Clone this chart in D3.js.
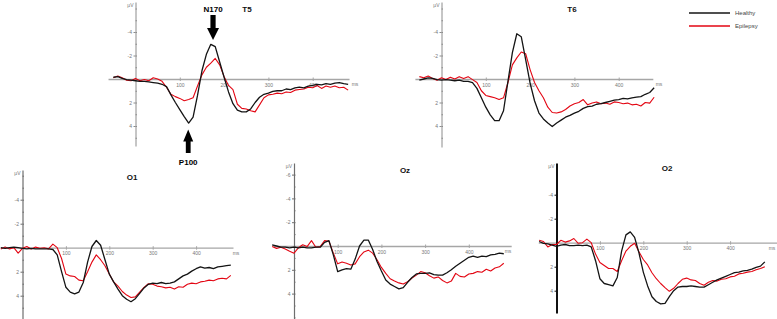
<!DOCTYPE html>
<html>
<head>
<meta charset="utf-8">
<script src="https://cdn.jsdelivr.net/npm/d3@7"></script>
<style>
  body { margin: 0; background: #fff; }
  svg { display: block; font-family: "Liberation Sans", Arial, sans-serif; }
</style>
</head>
<body>
<svg id="chart" width="777" height="319"></svg>
<script>
// time grid (ms) shared by every panel
const times = [-50,-40,-30,-20,-10,0,10,20,30,40,50,60,70,80,90,100,110,120,130,140,150,160,170,180,190,200,210,220,230,240,250,260,270,280,290,300,310,320,330,340,350,360,370,380,390,400,410,420,430,440,450,460,470,480];

// amplitudes in µV (positive is drawn downward)
const t5Healthy = [-0.15,-0.2,-0.05,0.05,0.1,0.15,0.2,0.2,0.25,0.3,0.35,0.45,0.65,1.35,2.0,2.6,3.2,3.75,3.25,1.4,-0.7,-2.1,-2.95,-2.75,-1.45,-0.15,1.1,2.1,2.65,2.8,2.8,2.55,2.0,1.55,1.3,1.2,1.05,1.0,1.0,0.85,0.9,0.75,0.7,0.75,0.6,0.55,0.45,0.5,0.4,0.45,0.35,0.3,0.4,0.45];
const t5Epilepsy = [-0.1,-0.25,-0.1,0.1,0.15,-0.05,0.15,0.05,0.15,-0.1,0.0,0.2,0.7,1.3,1.5,1.65,1.85,1.75,1.6,0.6,-0.35,-1.0,-1.35,-1.75,-1.2,-0.2,0.55,0.9,2.15,2.5,2.55,2.7,2.8,2.2,1.6,1.35,1.3,1.2,1.25,1.1,1.15,0.95,0.9,0.85,0.7,0.75,0.55,0.8,0.6,0.7,0.6,0.75,0.7,0.95];

const t6Healthy = [0.1,0.0,-0.1,-0.05,0.05,0.1,0.05,0.1,0.15,0.1,0.2,0.2,0.3,0.8,1.6,2.4,3.05,3.55,3.55,2.7,0.2,-2.25,-3.85,-3.6,-1.65,0.35,1.85,2.9,3.4,3.75,4.05,3.75,3.5,3.25,3.1,2.9,2.75,2.5,2.35,2.3,2.15,2.1,2.0,1.9,1.8,1.75,1.65,1.7,1.6,1.55,1.5,1.3,1.15,0.75];
const t6Epilepsy = [-0.2,-0.1,-0.25,-0.05,0.1,-0.1,0.05,-0.15,0.0,-0.2,-0.05,-0.2,0.05,0.3,1.0,1.4,1.5,1.6,1.75,1.6,0.3,-1.2,-1.8,-2.3,-2.15,-0.8,0.3,1.0,1.6,2.4,2.85,2.9,2.8,2.6,2.3,2.1,2.0,1.75,2.2,2.05,1.95,2.1,2.05,2.15,1.95,2.0,2.1,2.05,2.2,2.15,2.3,2.0,2.05,1.55];

const o1Healthy = [0.0,0.05,0.0,-0.05,0.0,0.05,0.1,0.05,0.1,0.1,0.1,0.1,0.15,0.6,2.0,3.3,3.7,3.85,3.7,2.9,1.2,-0.1,-0.6,-0.2,1.0,2.2,2.85,3.45,4.0,4.3,4.5,4.25,3.8,3.35,3.05,2.95,3.0,2.9,3.0,2.95,2.85,2.6,2.35,2.2,1.95,1.75,1.6,1.7,1.65,1.75,1.6,1.55,1.5,1.45];
const o1Epilepsy = [0.1,-0.05,0.1,0.0,0.45,0.05,-0.1,0.1,-0.05,0.05,0.0,0.1,-0.3,0.0,0.9,2.2,2.35,2.4,2.7,2.75,2.0,1.2,0.6,1.0,1.5,2.2,2.85,3.2,3.65,3.95,4.15,4.1,3.7,3.3,3.0,3.05,3.2,3.25,3.35,3.3,3.45,3.25,3.3,3.05,2.95,3.0,2.85,2.8,2.7,2.75,2.6,2.55,2.6,2.3];

const ozHealthy = [-0.1,0.0,0.1,0.1,0.15,0.1,0.15,0.1,0.15,0.15,0.1,0.1,-0.3,-0.45,0.75,2.15,2.0,1.9,1.95,1.1,0.0,-0.5,-0.5,0.3,1.3,2.1,2.85,3.2,3.4,3.6,3.5,3.05,2.65,2.35,2.3,2.3,2.25,2.4,2.45,2.45,2.25,2.0,1.7,1.45,1.2,0.95,0.85,0.95,0.85,0.9,0.75,0.7,0.6,0.65];
const ozEpilepsy = [0.05,0.2,0.1,0.25,0.45,0.6,0.15,-0.1,0.05,-0.45,0.1,0.05,-0.45,-0.4,0.6,1.5,1.35,1.45,1.6,1.5,0.9,0.5,0.35,0.6,1.15,1.8,2.3,2.75,2.95,3.1,3.2,3.0,2.7,2.45,2.15,2.25,2.5,2.7,2.6,2.9,3.1,2.95,2.3,2.55,2.6,2.35,2.3,2.15,2.2,1.95,2.1,1.85,1.75,1.45];

const o2Healthy = [null,-0.1,0.05,0.1,0.2,0.3,0.2,0.15,0.25,0.25,0.2,0.25,0.2,0.35,1.5,3.0,3.4,3.5,3.6,2.9,0.7,-0.65,-0.9,-0.45,0.85,2.45,3.6,4.5,4.9,5.1,5.05,4.5,4.0,3.7,3.65,3.65,3.6,3.65,3.7,3.7,3.5,3.3,3.1,2.95,2.8,2.65,2.5,2.45,2.35,2.3,2.2,2.05,1.95,1.6];
const o2Epilepsy = [null,-0.2,-0.1,0.35,0.15,0.15,-0.2,-0.05,-0.15,-0.35,0.05,0.0,-0.3,0.0,0.95,1.65,1.9,2.15,2.15,2.4,1.5,0.7,0.3,0.05,0.75,1.4,1.85,2.5,3.0,3.4,3.75,4.05,3.8,3.4,3.05,2.95,3.1,3.15,3.4,3.55,3.3,3.15,3.2,3.05,3.0,2.85,2.8,2.6,2.55,2.45,2.4,2.25,2.15,2.0];

// tick labels
const xTicks = [100, 200, 300, 400];
const yTicks = [-4, -2, 2, 4];
const yTicksOz = [-6, -4, -2, 2, 4];
const seriesNames = ["Healthy", "Epilepsy"];
const seriesColors = ["#141414", "#e30613"];

// panel layout
const panels = [
  {name: "T5", healthy: t5Healthy, epilepsy: t5Epilepsy, ticks: yTicks,
   x0: 135.5, pxMs: 0.443, zeroY: 79, pxUv: 11.75, top: 2, bottom: 146,
   from: -62, to: 482, msX: 355, titleX: 247, titleY: 9, axisColor: "#8c8c8c", axisW: 1},
  {name: "T6", healthy: t6Healthy, epilepsy: t6Epilepsy, ticks: yTicks,
   x0: 441.5, pxMs: 0.443, zeroY: 79, pxUv: 11.75, top: 2, bottom: 147,
   from: -60, to: 477, msX: 659, titleX: 572, titleY: 9, axisColor: "#8c8c8c", axisW: 1},
  {name: "O1", healthy: o1Healthy, epilepsy: o1Epilepsy, ticks: yTicks,
   x0: 22.5, pxMs: 0.434, zeroY: 247.7, pxUv: 12, top: 170, bottom: 319,
   from: -47, to: 485, msX: 236, titleX: 132, titleY: 177, axisColor: "#6e6e6e", axisW: 1.2},
  {name: "Oz", healthy: ozHealthy, epilepsy: ozEpilepsy, ticks: yTicksOz,
   x0: 294, pxMs: 0.437, zeroY: 246, pxUv: 11.9, top: 163, bottom: 319,
   from: -48, to: 497, msX: 508, titleX: 405, titleY: 170, axisColor: "#6e6e6e", axisW: 1.2},
  {name: "O2", healthy: o2Healthy, epilepsy: o2Epilepsy, ticks: yTicks,
   x0: 556.5, pxMs: 0.434, zeroY: 242.7, pxUv: 12, top: 163, bottom: 313,
   from: -42, to: 510, msX: 772, titleX: 667, titleY: 168, axisColor: "#111", axisW: 2}
];

const svg = d3.select("#chart");

panels.forEach(p => {
  const g = svg.append("g").attr("class", "panel");

  const x = d3.scaleLinear().domain([0, 100]).range([p.x0, p.x0 + p.pxMs * 100]);
  const y = d3.scaleLinear().domain([0, 1]).range([p.zeroY, p.zeroY + p.pxUv]);

  // zero line as x axis
  const xAxisScale = d3.scaleLinear().domain([p.from, p.to]).range([x(p.from), x(p.to)]);
  const xAxis = g.append("g")
    .attr("transform", `translate(0, ${p.zeroY})`)
    .call(d3.axisBottom(xAxisScale).tickValues(xTicks).tickSizeInner(2).tickSizeOuter(0).tickPadding(2));
  xAxis.select(".domain").attr("stroke", "#a6a6a6").attr("stroke-width", 1.3);
  xAxis.selectAll(".tick line").attr("stroke", "#a6a6a6").attr("y1", -1.5);
  xAxis.selectAll(".tick text").attr("fill", "#777").attr("font-size", 5).attr("font-family", "Liberation Sans, Arial, sans-serif");

  g.append("text")
    .attr("x", p.msX)
    .attr("y", p.zeroY + 7)
    .attr("text-anchor", "middle")
    .attr("font-size", 5)
    .attr("fill", "#777")
    .text("ms");

  // y axis at 0 ms
  const yAxisScale = d3.scaleLinear()
    .domain([y.invert(p.top), y.invert(p.bottom)])
    .range([p.top, p.bottom]);
  const minor = d3.range(Math.ceil(y.invert(p.top)), Math.floor(y.invert(p.bottom)) + 1);
  g.append("g")
    .attr("transform", `translate(${x(0)}, 0)`)
    .call(d3.axisLeft(yAxisScale).tickValues(minor).tickSize(1.5).tickFormat(""))
    .call(a => a.select(".domain").remove())
    .selectAll(".tick line").attr("stroke", p.axisColor).attr("x2", 1.5);
  const yAxis = g.append("g")
    .attr("transform", `translate(${x(0)}, 0)`)
    .call(d3.axisLeft(yAxisScale).tickValues(p.ticks).tickSize(2).tickSizeOuter(0).tickPadding(1.5)
      .tickFormat(d => String(d)));
  yAxis.select(".domain").attr("stroke", p.axisColor).attr("stroke-width", p.axisW);
  yAxis.selectAll(".tick line").attr("stroke", p.axisColor);
  yAxis.selectAll(".tick text").attr("fill", "#777").attr("font-size", 5).attr("font-family", "Liberation Sans, Arial, sans-serif");

  g.append("text")
    .attr("x", x(0) - 2)
    .attr("y", p.top + 5)
    .attr("text-anchor", "end")
    .attr("font-size", 5)
    .attr("fill", "#777")
    .text("µV");

  // title
  g.append("text")
    .attr("x", p.titleX)
    .attr("y", p.titleY + 3)
    .attr("text-anchor", "middle")
    .attr("font-size", 8)
    .attr("font-weight", "bold")
    .attr("fill", "#111")
    .text(p.name);

  // traces, epilepsy first then healthy
  const line = d3.line()
    .defined(d => d[1] !== null)
    .x(d => x(d[0]))
    .y(d => y(d[1]));

  [p.epilepsy, p.healthy].forEach((vals, i) => {
    g.append("path")
      .datum(times.map((t, k) => [t, vals[k]]))
      .attr("fill", "none")
      .attr("stroke", i === 0 ? seriesColors[1] : seriesColors[0])
      .attr("stroke-width", i === 0 ? 1.1 : 1.3)
      .attr("stroke-linejoin", "round")
      .attr("d", line);
  });

  // component markers on T5
  if (p.name === "T5") {
    const ax = x(175), bx = x(119);
    g.append("path")
      .attr("d", `M${ax - 2.6},15 L${ax + 2.6},15 L${ax + 2.6},28 L${ax + 6},28 L${ax},40 L${ax - 6},28 L${ax - 2.6},28 Z`)
      .attr("fill", "#000");
    g.append("text")
      .attr("x", ax).attr("y", 12.3)
      .attr("text-anchor", "middle")
      .attr("font-size", 8).attr("font-weight", "bold")
      .text("N170");
    g.append("path")
      .attr("d", `M${bx},129.5 L${bx + 5},141.5 L${bx + 2.4},141.5 L${bx + 2.4},153 L${bx - 2.4},153 L${bx - 2.4},141.5 L${bx - 5},141.5 Z`)
      .attr("fill", "#000");
    g.append("text")
      .attr("x", bx).attr("y", 164.5)
      .attr("text-anchor", "middle")
      .attr("font-size", 8).attr("font-weight", "bold")
      .text("P100");
  }
});

// legend
const legend = svg.append("g").attr("transform", "translate(689, 13)");
seriesNames.forEach((n, i) => {
  legend.append("line")
    .attr("x1", 0).attr("x2", 41)
    .attr("y1", i * 13).attr("y2", i * 13)
    .attr("stroke", seriesColors[i])
    .attr("stroke-width", 1.3);
  legend.append("text")
    .attr("x", 46).attr("y", i * 13 + 2)
    .attr("font-size", 6)
    .attr("fill", "#444")
    .text(n);
});
</script>
</body>
</html>
